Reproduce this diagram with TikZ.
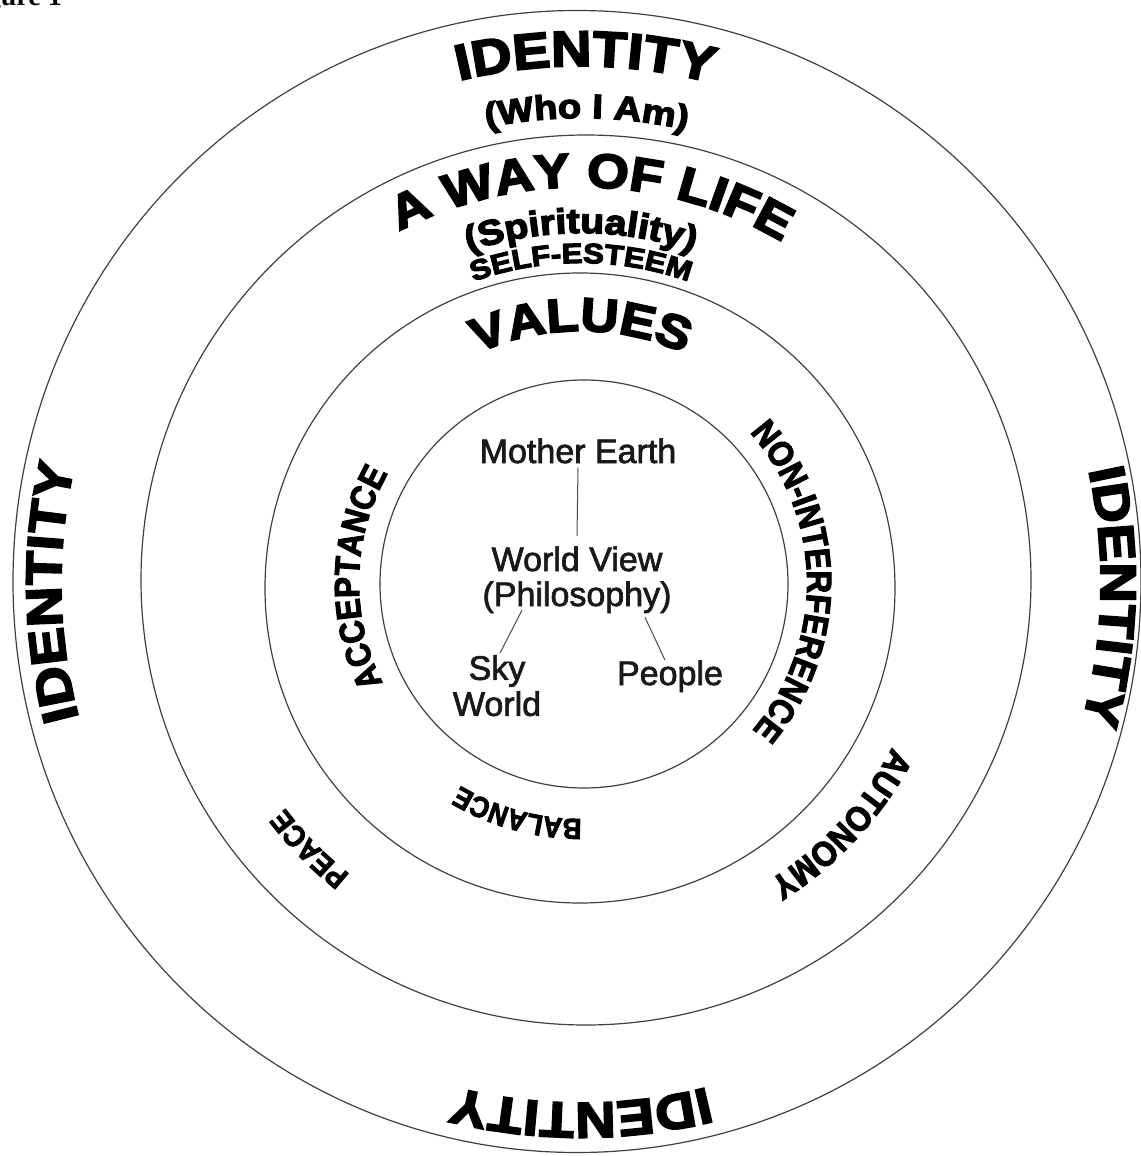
\documentclass[tikz,border=0pt]{standalone}
\usepackage{fontspec}
\setmainfont{Liberation Sans}
\newfontfamily\heavyfont{Liberation Sans Bold}[FakeBold=4,FakeStretch=1.12]
\newfontfamily\midfont{Liberation Sans Bold}[FakeBold=3,FakeStretch=0.9]
\newfontfamily\plainfont{Liberation Sans}[FakeBold=2]
\newfontfamily\capfont{Liberation Serif Bold}
\usetikzlibrary{decorations.text,calc}

% text set along a clockwise arc round (C): angle, radius, half span, size, font, text
\newcommand\arclabel[6]{%
  \path[decorate,decoration={text along path,text align=center,
      text={|#5\fontsize{#4}{#4}\selectfont|#6}}]
    ($(C)+(#1+#3:#2)$) arc[start angle=#1+#3,end angle=#1-#3,radius=#2];}

\begin{document}
\begin{tikzpicture}[x=1pt,y=1pt,
  ring/.style={line width=1.2pt,draw=black!75},
  link/.style={line width=1pt,draw=black!70},
  inner/.style={font=\plainfont\fontsize{34}{36}\selectfont,text=black!90,inner sep=1pt,align=center}]
\useasboundingbox (0,0) rectangle (1140,-1156);
\fill[white] (0,0) rectangle (1140,-1156);
\coordinate (C) at (581,-583);

\node[anchor=base east,font=\capfont\fontsize{28}{28}\selectfont,inner sep=0] (fig) at (62,-6) {Figure 1};

% the four rings
\draw[ring] (577,-581.5) ellipse[x radius=564,y radius=571];
\draw[ring] (586,-580) circle[radius=445];
\draw[ring] (580,-588) circle[radius=315];
\draw[ring] (584,-584) circle[radius=204];

% centre: world view
\node[inner,anchor=base] (earth) at (578,-463) {Mother Earth};
\node[inner,anchor=base] (view) at (577,-571) {World View};
\node[inner,anchor=base] (philo) at (577,-606) {(Philosophy)};
\node[inner,anchor=north] (sky) at (497,-654) {Sky\\World};
\node[inner,anchor=base] (people) at (670,-685) {People};
\draw[link] ([yshift=-3]earth.south) -- ([yshift=9]view.north);
\draw[link] ($(philo.south)+(-55,4)$) -- ($(sky.north)+(3,1)$);
\draw[link] ($(philo.south)+(68,-3)$) -- ($(people.north)+(-5,-1)$);

% outer ring
\arclabel{89.5}{517}{40}{50}{\heavyfont}{IDENTITY}
\arclabel{89.3}{465}{40}{34}{\heavyfont}{(Who I Am)}
\arclabel{181}{520}{40}{50}{\heavyfont}{IDENTITY}
\arclabel{-1.5}{520}{40}{50}{\heavyfont}{IDENTITY}
\arclabel{-90}{520}{40}{50}{\heavyfont}{IDENTITY}

% second ring
\arclabel{88.4}{396}{50}{48}{\heavyfont}{A WAY OF LIFE}
\arclabel{90}{350}{50}{35}{\heavyfont}{(Spirituality)}
\arclabel{90}{320}{50}{28}{\heavyfont}{SELF-ESTEEM}
\arclabel{-135.6}{372}{30}{30}{\midfont}{PEACE}
\arclabel{-42.8}{352}{40}{35}{\midfont}{AUTONOMY}

% values ring
\arclabel{90}{252}{60}{47}{\heavyfont}{VALUES}
\arclabel{178.6}{222}{60}{35}{\midfont}{ACCEPTANCE}
\arclabel{0.5}{226}{70}{35}{\midfont}{NON-INTERFERENCE}
\arclabel{-105.3}{236}{50}{29}{\midfont}{BALANCE}
\end{tikzpicture}
\end{document}
